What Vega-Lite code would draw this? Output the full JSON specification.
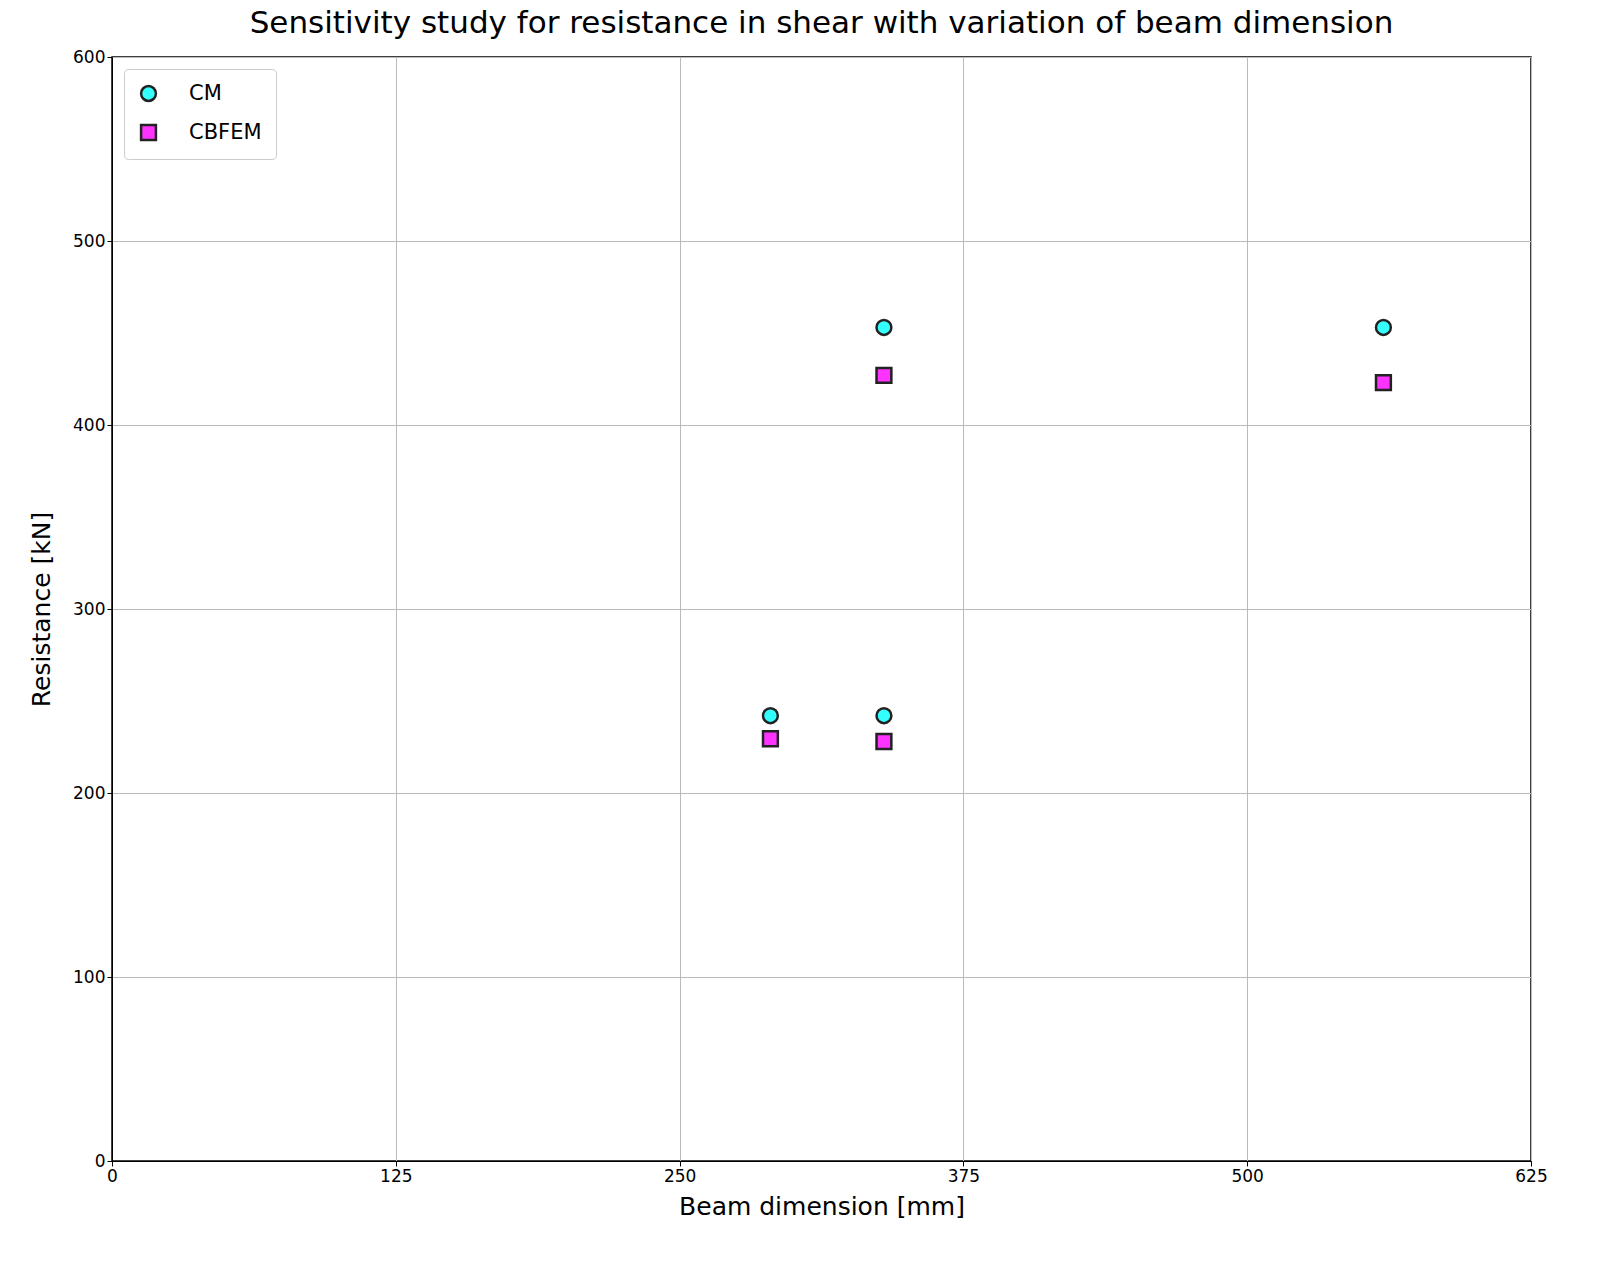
{
  "$schema": "https://vega.github.io/schema/vega-lite/v6.json",
  "autosize": {"type": "none"},
  "padding": {"left": 112, "top": 57, "right": 69, "bottom": 118},
  "width": 1419,
  "height": 1104,
  "background": "white",
  "title": {"text": "Sensitivity study for resistance in shear with variation of beam dimension", "fontSize": 31, "font": "DejaVu Sans", "fontWeight": "normal", "offset": 8},
  "data": {"values": [
    {"x": 290, "y": 242, "s": "CM"},
    {"x": 340, "y": 242, "s": "CM"},
    {"x": 340, "y": 453, "s": "CM"},
    {"x": 560, "y": 453, "s": "CM"},
    {"x": 290, "y": 229.5, "s": "CBFEM"},
    {"x": 340, "y": 228, "s": "CBFEM"},
    {"x": 340, "y": 427, "s": "CBFEM"},
    {"x": 560, "y": 423, "s": "CBFEM"}
  ]},
  "mark": {"type": "point", "filled": true, "size": 220, "stroke": "#222222", "strokeWidth": 2.5, "opacity": 1},
  "encoding": {
    "x": {"field": "x", "type": "quantitative", "scale": {"domain": [0, 625], "nice": false}, "title": "Beam dimension [mm]",
      "axis": {"values": [0, 125, 250, 375, 500, 625], "labelFont": "DejaVu Sans", "labelFontSize": 17, "titleFont": "DejaVu Sans", "titleFontSize": 25, "titleFontWeight": "normal", "titlePadding": 10, "labelColor": "black", "titleColor": "black", "domainColor": "black", "tickColor": "black", "gridColor": "#bbbbbb", "labelFlush": false}},
    "y": {"field": "y", "type": "quantitative", "scale": {"domain": [0, 600], "nice": false}, "title": "Resistance [kN]",
      "axis": {"values": [0, 100, 200, 300, 400, 500, 600], "labelFont": "DejaVu Sans", "labelFontSize": 17, "titleFont": "DejaVu Sans", "titleFontSize": 25, "titleFontWeight": "normal", "titlePadding": 18, "labelColor": "black", "titleColor": "black", "domainColor": "black", "tickColor": "black", "gridColor": "#bbbbbb", "labelFlush": false}},
    "color": {"field": "s", "type": "nominal", "scale": {"domain": ["CM", "CBFEM"], "range": ["#33ffff", "#ff33ff"]},
      "legend": {"title": null, "orient": "top-left", "offset": 12, "labelFont": "DejaVu Sans", "labelFontSize": 21, "labelOffset": 30, "symbolSize": 220, "symbolStrokeColor": "#222222", "symbolStrokeWidth": 2.5, "fillColor": "white", "strokeColor": "#cccccc", "padding": 14, "rowPadding": 14, "cornerRadius": 4}},
    "shape": {"field": "s", "type": "nominal", "scale": {"domain": ["CM", "CBFEM"], "range": ["circle", "square"]}, "legend": null}
  },
  "config": {"view": {"stroke": "black", "strokeWidth": 1.5}}
}
